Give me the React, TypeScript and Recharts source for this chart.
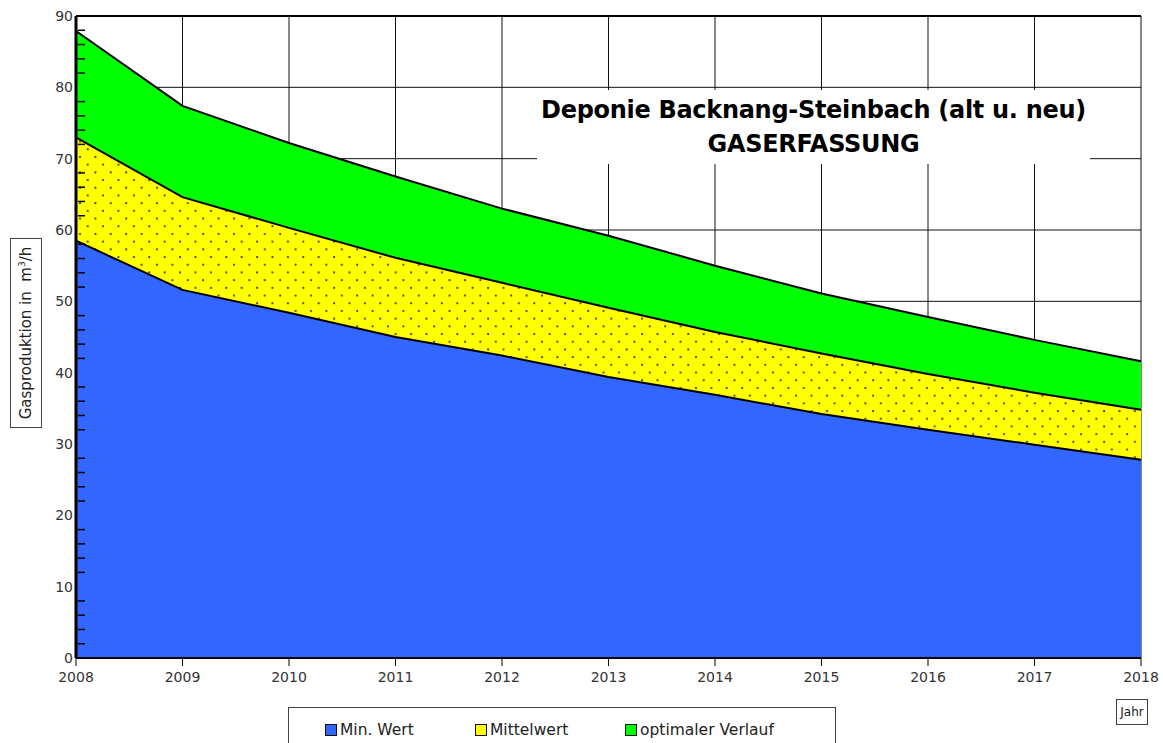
import React from 'react';
import { AreaChart, Area, XAxis, YAxis, CartesianGrid, ReferenceLine } from 'recharts';

// Gasprognose Deponie Backnang-Steinbach, Werte in m³/h

const years = [2008, 2009, 2010, 2011, 2012, 2013, 2014, 2015, 2016, 2017, 2018];
const minWert = [58.5, 51.6, 48.4, 45.0, 42.4, 39.4, 36.9, 34.2, 32.0, 29.9, 27.8];
const mittelwert = [73.0, 64.6, 60.3, 56.1, 52.6, 49.1, 45.7, 42.7, 39.8, 37.2, 34.8];
const optimalerVerlauf = [87.9, 77.4, 72.2, 67.5, 63.0, 59.2, 55.0, 51.1, 47.8, 44.6, 41.6];

const majorTicks = [0, 10, 20, 30, 40, 50, 60, 70, 80, 90];
const minorTicks = Array.from({ length: 46 }, (_, i) => i * 2);

const legendItems = [
  { label: 'Min. Wert', color: '#3366ff', left: 36 },
  { label: 'Mittelwert', color: '#ffff00', left: 186 },
  { label: 'optimaler Verlauf', color: '#00ff00', left: 336 },
];

const data = years.map((year, i) => ({
  year,
  min: minWert[i],
  mittel: mittelwert[i],
  optimal: optimalerVerlauf[i],
}));

const FONT = '"DejaVu Sans", "Liberation Sans", sans-serif';

const YTick = (props: any) => {
  const { x, y, payload } = props;
  const major = payload.value % 10 === 0;
  return (
    <g>
      {!major && <line x1={x + 5} x2={x + 12} y1={y} y2={y} stroke="#000" strokeWidth={1.5} />}
      {major && (
        <text x={x} y={y} dy={5} textAnchor="end" fontSize={14} fill="#333" fontFamily={FONT}>
          {payload.value}
        </text>
      )}
    </g>
  );
};

export default function App() {
  return (
    <div style={{ position: 'absolute', left: 0, top: 0, width: 1163, height: 743, background: '#fff', overflow: 'hidden' }}>
      <AreaChart width={1163} height={743} data={data} margin={{ top: 16, right: 22, bottom: 55, left: 36 }}>
        <defs>
          <pattern id="dots" width="15.4" height="15.4" patternUnits="userSpaceOnUse">
            <rect width="15.4" height="15.4" fill="#ffff00" />
            <circle cx="3" cy="3" r="1.1" fill="#333" />
            <circle cx="10.7" cy="10.7" r="1.1" fill="#333" />
          </pattern>
        </defs>
        <CartesianGrid stroke="#111" strokeWidth={1} horizontalValues={majorTicks} verticalValues={years} />
        <XAxis
          dataKey="year"
          type="number"
          domain={[2008, 2018]}
          ticks={years}
          tickSize={8}
          tickMargin={6}
          height={30}
          axisLine={{ stroke: '#000', strokeWidth: 2 }}
          tickLine={{ stroke: '#000' }}
          tick={{ fontSize: 14, fill: '#333', fontFamily: FONT }}
          interval={0}
        />
        <YAxis
          type="number"
          domain={[0, 90]}
          ticks={minorTicks}
          interval={0}
          width={40}
          tickSize={0}
          tickMargin={3}
          tickLine={false}
          axisLine={{ stroke: '#000', strokeWidth: 3 }}
          tick={<YTick />}
        />
        <Area
          dataKey="optimal"
          type="linear"
          fill="#00ff00"
          fillOpacity={1}
          stroke="#000"
          strokeWidth={2}
          isAnimationActive={false}
        />
        <Area
          dataKey="mittel"
          type="linear"
          fill="url(#dots)"
          fillOpacity={1}
          stroke="#000"
          strokeWidth={2}
          isAnimationActive={false}
        />
        <Area
          dataKey="min"
          type="linear"
          fill="#3366ff"
          fillOpacity={1}
          stroke="#000"
          strokeWidth={2}
          isAnimationActive={false}
        />
        <ReferenceLine y={90} stroke="#000" strokeWidth={2} />
      </AreaChart>

      {/* Titelfeld */}
      <div
        style={{
          position: 'absolute',
          left: 537,
          top: 90,
          width: 553,
          height: 74,
          background: '#fff',
          fontFamily: FONT,
          fontWeight: 'bold',
          fontSize: 24,
          letterSpacing: -0.3,
          color: '#000',
          textAlign: 'center',
          lineHeight: '34px',
          paddingTop: 3,
          boxSizing: 'border-box',
          whiteSpace: 'nowrap',
        }}
      >
        <div>Deponie Backnang-Steinbach (alt u. neu)</div>
        <div>GASERFASSUNG</div>
      </div>

      {/* Achsbeschriftung Y */}
      <div
        style={{
          position: 'absolute',
          left: 10,
          top: 238,
          width: 32,
          height: 190,
          border: '1px solid #444',
          boxSizing: 'border-box',
        }}
      >
        <div
          style={{
            position: 'absolute',
            left: '50%',
            top: '50%',
            transform: 'translate(-50%, -50%) rotate(-90deg)',
            whiteSpace: 'nowrap',
            fontFamily: FONT,
            fontSize: 15,
            color: '#222',
          }}
        >
          Gasproduktion in&nbsp;&nbsp;m<sup style={{ fontSize: 9 }}>3</sup>/h
        </div>
      </div>

      {/* Achsbeschriftung X */}
      <div
        style={{
          position: 'absolute',
          left: 1116,
          top: 699,
          width: 32,
          height: 26,
          border: '1px solid #444',
          boxSizing: 'border-box',
          fontFamily: FONT,
          fontSize: 12,
          color: '#222',
          textAlign: 'center',
          lineHeight: '24px',
        }}
      >
        Jahr
      </div>

      {/* Legende */}
      <div
        style={{
          position: 'absolute',
          left: 288,
          top: 707,
          width: 548,
          height: 50,
          border: '1px solid #444',
          boxSizing: 'border-box',
          fontFamily: FONT,
          fontSize: 15.5,
          color: '#222',
        }}
      >
        {legendItems.map((item) => (
          <div key={item.label} style={{ position: 'absolute', left: item.left, top: 13, display: 'flex', alignItems: 'center' }}>
            <span
              style={{
                display: 'inline-block',
                width: 12,
                height: 12,
                background: item.color,
                border: '1.5px solid #111',
                boxSizing: 'border-box',
                marginRight: 3,
              }}
            />
            <span>{item.label}</span>
          </div>
        ))}
      </div>
    </div>
  );
}
